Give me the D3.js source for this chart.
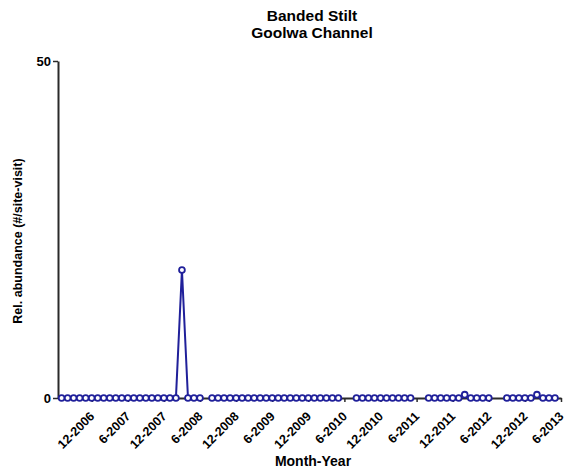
<!DOCTYPE html>
<html>
<head>
<meta charset="utf-8">
<script src="https://cdn.jsdelivr.net/npm/d3@7/dist/d3.min.js"></script>
<style>
  html, body { margin: 0; padding: 0; background: #fff; }
  svg { display: block; font-family: Arial, "Liberation Sans", Helvetica, sans-serif; }
</style>
</head>
<body>
<svg id="chart" width="570" height="474"></svg>
<script>
// Survey months (M-YYYY); null = no survey that month
const surveyMonths = [
  "7-2006","8-2006","9-2006","10-2006","11-2006","12-2006",
  "1-2007","2-2007","3-2007","4-2007","5-2007","6-2007","7-2007","8-2007","9-2007","10-2007","11-2007","12-2007",
  "1-2008","2-2008","3-2008","4-2008","5-2008","6-2008","7-2008","8-2008","9-2008","10-2008","11-2008","12-2008",
  "1-2009","2-2009","3-2009","4-2009","5-2009","6-2009","7-2009","8-2009","9-2009","10-2009","11-2009","12-2009",
  "1-2010","2-2010","3-2010","4-2010","5-2010","6-2010","7-2010","8-2010","9-2010","10-2010","11-2010","12-2010",
  "1-2011","2-2011","3-2011","4-2011","5-2011","6-2011","7-2011","8-2011","9-2011","10-2011","11-2011","12-2011",
  "1-2012","2-2012","3-2012","4-2012","5-2012","6-2012","7-2012","8-2012","9-2012","10-2012","11-2012","12-2012",
  "1-2013","2-2013","3-2013","4-2013","5-2013"
];

// Relative abundance (#/site-visit)
const abundance = [
  0, 0, 0, 0, 0, 0,
  0, 0, 0, 0, 0, 0, 0, 0, 0, 0, 0, 0,
  0, 0, 19, 0, 0, 0, null, 0, 0, 0, 0, 0,
  0, 0, 0, 0, 0, 0, 0, 0, 0, 0, 0, 0,
  0, 0, 0, 0, 0, null, null, 0, 0, 0, 0, 0,
  0, 0, 0, 0, 0, null, null, 0, 0, 0, 0, 0,
  0, 0.5, 0, 0, 0, 0, null, null, 0, 0, 0, 0,
  0, 0.5, 0, 0, 0
];

const xTickLabels = [
  "12-2006","6-2007","12-2007","6-2008","12-2008","6-2009","12-2009",
  "6-2010","12-2010","6-2011","12-2011","6-2012","12-2012","6-2013"
];
const yTickValues = [0, 50];

const titleLines = ["Banded Stilt", "Goolwa Channel"];
const xTitle = "Month-Year";
const yTitle = "Rel. abundance (#/site-visit)";

// month label -> months since 12-2006
const monthIndex = s => {
  const [m, y] = s.split("-").map(Number);
  return (y - 2006) * 12 + m - 12;
};

const data = surveyMonths.map((s, i) => ({ k: monthIndex(s), v: abundance[i] }));

const svg = d3.select("#chart");
const navy = "#20209a";
const axisColor = "#2a2a2a";

const x = d3.scaleLinear().domain([-5.6, 78]).range([58, 561]);
const y = d3.scaleLinear().domain([0, 50]).range([398, 61]);

// Title
svg.append("g").selectAll("text").data(titleLines).join("text")
  .attr("x", 312).attr("y", (d, i) => 21 + i * 17)
  .attr("text-anchor", "middle")
  .attr("font-size", 15.5).attr("font-weight", "bold").attr("fill", "#000")
  .text(d => d);

// Y axis
const yAxis = svg.append("g").attr("transform", "translate(58,0)")
  .call(d3.axisLeft(y).tickValues(yTickValues).tickSize(5).tickSizeOuter(0).tickPadding(2));
yAxis.select(".domain").attr("stroke", axisColor).attr("stroke-width", 2);
yAxis.selectAll(".tick line").attr("stroke", axisColor).attr("stroke-width", 1.5);
yAxis.selectAll(".tick text").attr("font-size", 13).attr("font-weight", "bold")
  .attr("fill", "#000").attr("font-family", null);

// X axis
const xAxis = svg.append("g").attr("transform", "translate(0,398)")
  .call(d3.axisBottom(x).tickValues(xTickLabels.map(monthIndex))
    .tickFormat((d, i) => xTickLabels[i]).tickSize(4).tickSizeOuter(0));
xAxis.select(".domain").attr("stroke", axisColor).attr("stroke-width", 2);
xAxis.selectAll(".tick line").attr("stroke", axisColor).attr("stroke-width", 1.5);
xAxis.selectAll(".tick text")
  .attr("font-size", 12.5).attr("font-weight", "bold").attr("fill", "#000")
  .attr("font-family", null)
  .attr("text-anchor", "end")
  .attr("y", 0).attr("dy", 0)
  .attr("transform", "translate(3,19) rotate(-45)");

// Axis titles
svg.append("text")
  .attr("x", 313).attr("y", 466)
  .attr("text-anchor", "middle").attr("font-size", 14).attr("font-weight", "bold").attr("fill", "#000")
  .text(xTitle);
svg.append("text")
  .attr("transform", "translate(22,241) rotate(-90)")
  .attr("text-anchor", "middle").attr("font-size", 12.5).attr("font-weight", "bold").attr("fill", "#000")
  .text(yTitle);

// Series line (breaks where a month was not surveyed)
const line = d3.line()
  .defined(d => d.v !== null)
  .x(d => x(d.k)).y(d => y(d.v));
svg.append("path").datum(data)
  .attr("fill", "none").attr("stroke", navy).attr("stroke-width", 2)
  .attr("d", line);

// Markers
svg.append("g").selectAll("circle").data(data.filter(d => d.v !== null)).join("circle")
  .attr("cx", d => x(d.k)).attr("cy", d => y(d.v))
  .attr("r", 2.9)
  .attr("fill", "#fff").attr("stroke", navy).attr("stroke-width", 1.8);
</script>
</body>
</html>
